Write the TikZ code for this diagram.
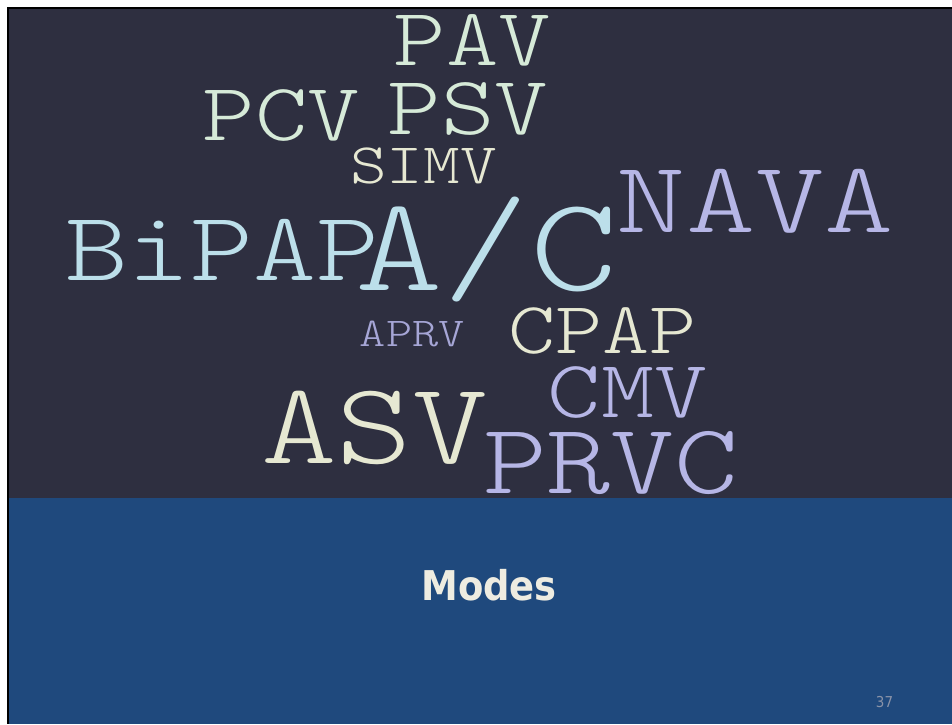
\documentclass[tikz,border=0pt]{standalone}
\usepackage{fontspec}
\usepackage{graphicx}
\newfontfamily\cour[Extension=.otf]{lmmonolt10-regular}
\newfontfamily\tah{DejaVu Sans Condensed}
\definecolor{darkbg}{HTML}{2E2F40}
\definecolor{bandblue}{HTML}{1F497D}
\definecolor{mint}{HTML}{D6EAD8}
\definecolor{cream}{HTML}{E6E8D2}
\definecolor{ice}{HTML}{BCDFEA}
\definecolor{lav}{HTML}{B6B6E6}
\definecolor{lavdim}{HTML}{A6A6D6}
\definecolor{titlecol}{HTML}{EEECE1}
\definecolor{numgrey}{HTML}{8A93A8}
\tikzset{word/.style={anchor=base west, inner sep=0pt, outer sep=0pt}}
\newcommand\cloudword[7][1.22]{\node[word, text=#6] (#2) at ({#3-0.05*#5},#4) {\scalebox{#1}[1]{\fontsize{#5}{#5}\cour #7}};}
\begin{document}
\begin{tikzpicture}[x=1pt,y=-1pt]
\useasboundingbox (0,0) rectangle (952,724);
\fill[white] (0,0) rectangle (952,724);
\fill[black] (7,7) rectangle (952,724);
\fill[darkbg] (9,9) rectangle (952,498);
\cloudword{pav}{398}{65}{81.8}{mint}{PAV}
\cloudword{pcv}{207}{140}{81.8}{mint}{PCV}
\cloudword{psv}{392}{134}{83.5}{mint}{PSV}
\cloudword{simv}{353}{183}{57.3}{cream}{SIMV}
\cloudword{bipap}{70}{280}{98.2}{ice}{BiPAP}
\cloudword[1.24]{ac}{362}{290}{134.2}{ice}{A/C}
\cloudword[1.30]{nava}{622}{232}{101.5}{lav}{NAVA}
\cloudword{aprv}{362}{346}{40.9}{lavdim}{APRV}
\cloudword{cpap}{512}{353}{73.6}{cream}{CPAP}
\cloudword[1.24]{cmv}{552}{417}{81.8}{lav}{CMV}
\cloudword[1.24]{asv}{267}{463}{116.2}{cream}{ASV}
\cloudword{prvc}{488}{493}{99.8}{lav}{PRVC}
\fill[bandblue] (9,498) rectangle (952,724);
\node[anchor=base, inner sep=0pt, text=titlecol] (title) at (489,600) {\fontsize{41}{41}\tah\bfseries Modes};
\node[anchor=base, inner sep=0pt, text=numgrey] (num) at (884.5,707) {\fontsize{15}{15}\tah 37};
\end{tikzpicture}
\end{document}
